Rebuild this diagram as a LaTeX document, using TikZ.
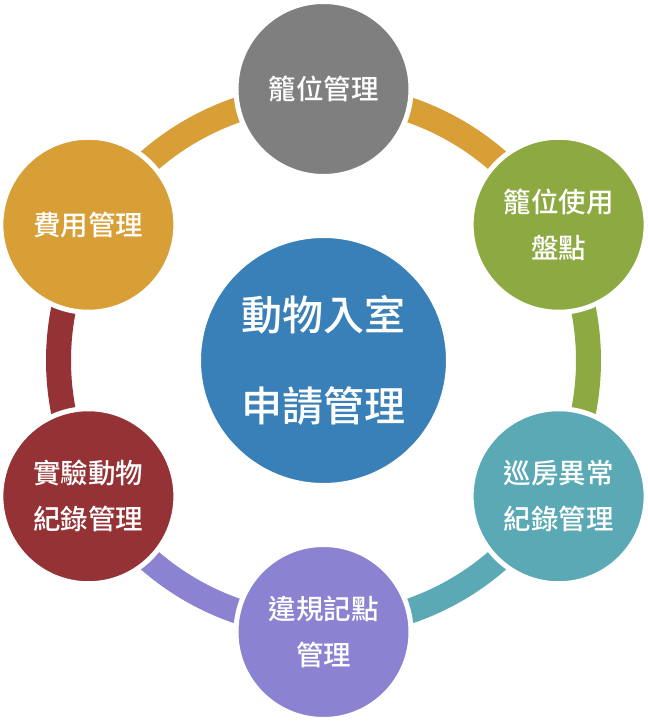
\documentclass[tikz,border=0pt]{standalone}
\usepackage{fontspec}
\newfontfamily\cjk{Noto Sans CJK TC}[BoldFont={Noto Sans CJK TC Medium}]
\definecolor{cGray}{HTML}{7F7F7F}
\definecolor{cGreen}{HTML}{8DAA42}
\definecolor{cTeal}{HTML}{5AA9B4}
\definecolor{cPurple}{HTML}{8B83D1}
\definecolor{cRed}{HTML}{953236}
\definecolor{cOrange}{HTML}{D99F37}
\definecolor{cBlue}{HTML}{3A80B8}
\begin{document}
\begin{tikzpicture}[x=1pt,y=1pt,
  ringseg/.style={line width=25pt, line cap=butt},
  outer/.style={circle, draw=white, line width=5pt, minimum size=175pt, inner sep=0pt,
    text=white, align=center, font=\cjk\bfseries\fontsize{27.5pt}{46pt}\selectfont},
  hub/.style={circle, draw=white, line width=5pt, minimum size=250pt, inner sep=0pt,
    text=white, align=center, font=\cjk\bfseries\fontsize{41pt}{91pt}\selectfont}]
\useasboundingbox (0,0) rectangle (648,721);
\coordinate (O) at (323.5,360.5);
% ring segments
\draw[ringseg, cOrange] (O) ++(90:265) arc[start angle=90, end angle=30, radius=265];
\draw[ringseg, cGreen] (O) ++(30:265) arc[start angle=30, end angle=-30, radius=265];
\draw[ringseg, cTeal] (O) ++(-30:265) arc[start angle=-30, end angle=-90, radius=265];
\draw[ringseg, cPurple] (O) ++(-90:265) arc[start angle=-90, end angle=-150, radius=265];
\draw[ringseg, cRed] (O) ++(-150:265) arc[start angle=-150, end angle=-210, radius=265];
\draw[ringseg, cOrange] (O) ++(150:265) arc[start angle=150, end angle=90, radius=265];
% circles
\path (O) ++(90:271.5) node[outer, fill=cGray] (top) {籠位管理};
\path (O) ++(30:271.5) node[outer, fill=cGreen] (ur) {籠位使用\\盤點};
\path (O) ++(-30:271.5) node[outer, fill=cTeal] (lr) {巡房異常\\紀錄管理};
\path (O) ++(-90:271.5) node[outer, fill=cPurple] (bot) {違規記點\\管理};
\path (O) ++(210:271.5) node[outer, fill=cRed] (ll) {實驗動物\\紀錄管理};
\path (O) ++(150:271.5) node[outer, fill=cOrange] (ul) {費用管理};
\node[hub, fill=cBlue] (hubnode) at (O) {動物入室\\申請管理};
\end{tikzpicture}
\end{document}
